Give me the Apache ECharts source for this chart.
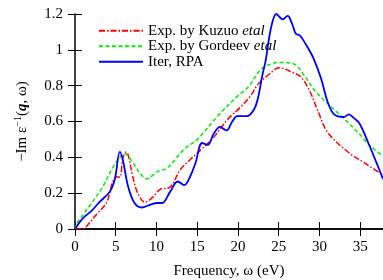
<!DOCTYPE html>
<html>
<head>
<meta charset="utf-8">
<script src="https://cdn.jsdelivr.net/npm/echarts@6/dist/echarts.min.js"></script>
<style>
  html, body { margin: 0; padding: 0; background: #fff; }
  #chart { width: 383px; height: 280px; }
</style>
</head>
<body>
<div id="chart"></div>
<script>
  // Kuzuo et al (red dash-dot)
  const kuzuoFreq = [0, 1.0, 1.5, 2.6, 3.9, 4.6, 5.1, 5.5, 5.9, 6.3, 6.6, 7.1, 7.7, 8.6, 9.6, 10.4, 11.7, 12.9, 14.1, 15.4, 17, 18.7, 20.3, 21.5, 22.5, 24, 25, 26.9, 27.7, 28.7, 29.8, 31, 33.5, 35.5, 37.8]
  const kuzuoVals = [0, 0, 0.02, 0.08, 0.15, 0.26, 0.29, 0.29, 0.40, 0.43, 0.40, 0.29, 0.20, 0.15, 0.18, 0.22, 0.235, 0.33, 0.385, 0.44, 0.51, 0.61, 0.68, 0.74, 0.81, 0.87, 0.90, 0.87, 0.85, 0.78, 0.66, 0.54, 0.43, 0.37, 0.30]

  // Gordeev et al (green dashed)
  const gordeevFreq = [0, 0.2, 1.8, 3.4, 4.6, 5.7, 6.1, 7.1, 8.0, 8.8, 10.1, 11.3, 12.5, 13.5, 15, 17.5, 19.9, 21.2, 22.8, 24, 25.2, 26.9, 28.1, 29.3, 31, 32.7, 34.7, 36.3, 37.8]
  const gordeevVals = [0, 0.03, 0.13, 0.235, 0.34, 0.41, 0.42, 0.37, 0.31, 0.28, 0.32, 0.34, 0.40, 0.45, 0.50, 0.63, 0.74, 0.79, 0.89, 0.92, 0.93, 0.92, 0.86, 0.78, 0.70, 0.63, 0.54, 0.46, 0.41]

  // Iter, RPA (blue solid)
  const rpaFreq = [0, 0.6, 1.2, 2, 3, 4.3, 4.9, 5.5, 5.9, 6.5, 7.3, 8.2, 9.2, 10.1, 10.7, 11.7, 12.6, 13.4, 14.2, 14.8, 15.6, 16.3, 17.0, 17.8, 18.6, 19.3, 19.9, 21.1, 22.0, 22.5, 23, 23.4, 23.8, 24.2, 24.7, 25.5, 26.1, 26.6, 27.1, 27.6, 28.6, 29.3, 30.2, 31.0, 31.8, 33.0, 33.6, 34.2, 34.9, 36, 37, 37.8]
  const rpaVals = [0, 0.04, 0.07, 0.1, 0.15, 0.21, 0.28, 0.43, 0.38, 0.24, 0.145, 0.12, 0.135, 0.145, 0.145, 0.21, 0.265, 0.245, 0.3, 0.37, 0.48, 0.47, 0.53, 0.57, 0.55, 0.6, 0.63, 0.63, 0.67, 0.74, 0.86, 0.94, 1.06, 1.15, 1.2, 1.17, 1.19, 1.15, 1.09, 1.08, 1.01, 0.95, 0.84, 0.71, 0.64, 0.625, 0.64, 0.62, 0.59, 0.48, 0.37, 0.28]

  const font = 'Liberation Serif'

  function pairs(xs, ys) {
    return xs.map((x, i) => [x, ys[i]])
  }

  const chart = echarts.init(document.getElementById('chart'))

  const axisLine = { show: true, lineStyle: { color: '#000', width: 1.5 } }
  const axisTick = { show: true, inside: true, length: 7, lineStyle: { color: '#000', width: 1 } }

  chart.setOption({
    animation: false,
    grid: { left: 75, right: 0, top: 14, bottom: 51, outerBoundsMode: 'none' },
    legend: {
      orient: 'vertical',
      left: 93,
      top: 18,
      itemWidth: 44,
      itemHeight: 10,
      itemGap: 0,
      itemStyle: { opacity: 0, borderWidth: 0 },
      textStyle: {
        fontFamily: font, fontSize: 15, color: '#000', lineHeight: 15.5,
        rich: {
          n: { fontFamily: font, fontSize: 15, color: '#000', lineHeight: 15.5 },
          i: { fontFamily: font, fontSize: 15, color: '#000', lineHeight: 15.5, fontStyle: 'italic' }
        }
      },
      formatter: function (name) {
        if (name === 'Exp. by Kuzuo etal') return '{n|Exp. by Kuzuo }{i|etal}'
        if (name === 'Exp. by Gordeev etal') return '{n|Exp. by Gordeev }{i|etal}'
        return '{n|' + name + '}'
      },
      data: ['Exp. by Kuzuo etal', 'Exp. by Gordeev etal', 'Iter, RPA']
    },
    xAxis: [{
      type: 'value',
      min: 0,
      max: 37.8,
      interval: 5,
      name: 'Frequency, ω (eV)',
      nameLocation: 'middle',
      nameGap: 35,
      nameTextStyle: { fontFamily: font, fontSize: 15, color: '#000' },
      axisLine: axisLine,
      axisTick: axisTick,
      axisLabel: { fontFamily: font, fontSize: 15, color: '#000', margin: 11, showMaxLabel: false },
      splitLine: { show: false }
    }, {
      type: 'value',
      position: 'top',
      min: 0,
      max: 37.8,
      interval: 5,
      axisLine: axisLine,
      axisTick: axisTick,
      axisLabel: { show: false },
      splitLine: { show: false }
    }],
    yAxis: [{
      type: 'value',
      min: 0,
      max: 1.2,
      interval: 0.2,
      name: '{a|−Im ε}{s|−1}{a|(}{q|q}{a|, ω)}',
      nameLocation: 'middle',
      nameGap: 44,
      nameTextStyle: {
        rich: {
          a: { fontFamily: font, fontSize: 15, color: '#000', lineHeight: 18 },
          s: { fontFamily: font, fontSize: 10, color: '#000', lineHeight: 18, verticalAlign: 'top' },
          q: { fontFamily: font, fontSize: 15, color: '#000', fontWeight: 'bold', fontStyle: 'italic', lineHeight: 18 }
        }
      },
      axisLine: axisLine,
      axisTick: axisTick,
      axisLabel: {
        fontFamily: font, fontSize: 15, color: '#000', margin: 12,
        formatter: function (v) { return String(Math.round(v * 10) / 10) }
      },
      splitLine: { show: false }
    }, {
      type: 'value',
      position: 'right',
      min: 0,
      max: 1.2,
      interval: 0.2,
      axisLine: { show: false },
      axisTick: axisTick,
      axisLabel: { show: false },
      splitLine: { show: false }
    }],
    series: [{
      name: 'Exp. by Kuzuo etal',
      type: 'line',
      symbol: 'none',
      smooth: 0.35,
      data: pairs(kuzuoFreq, kuzuoVals),
      lineStyle: { color: '#ff0000', width: 1.5, type: [6, 2, 1.5, 2] },
      itemStyle: { color: '#ff0000' }
    }, {
      name: 'Exp. by Gordeev etal',
      type: 'line',
      symbol: 'none',
      smooth: 0.35,
      data: pairs(gordeevFreq, gordeevVals),
      lineStyle: { color: '#00ee00', width: 1.5, type: [4, 2.5] },
      itemStyle: { color: '#00ee00' }
    }, {
      name: 'Iter, RPA',
      type: 'line',
      symbol: 'none',
      smooth: 0.35,
      data: pairs(rpaFreq, rpaVals),
      lineStyle: { color: '#0000ff', width: 1.8 },
      itemStyle: { color: '#0000ff' }
    }]
  })
</script>
</body>
</html>
